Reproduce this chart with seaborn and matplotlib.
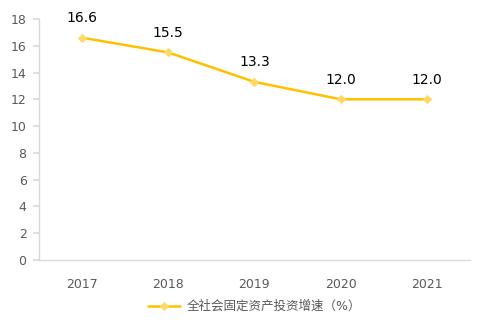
import matplotlib
matplotlib.use("Agg")
import matplotlib.pyplot as plt
import seaborn as sns
import pandas as pd

years = ["2017", "2018", "2019", "2020", "2021"]
growth = [16.6, 15.5, 13.3, 12.0, 12.0]
series_name = "全社会固定资产投资增速（%）"
y_ticks = [0, 2, 4, 6, 8, 10, 12, 14, 16, 18]

sns.set_theme(style="white")
plt.rcParams['font.family'] = ['DejaVu Sans', 'Noto Sans CJK SC']

df = pd.DataFrame({"year": years, "value": growth, "series": series_name})

fig = plt.figure(figsize=(4.89, 3.27), dpi=100)
ax = fig.add_axes([0.0798, 0.205, 0.881, 0.737])

sns.lineplot(data=df, x="year", y="value", hue="series", palette=["#FFC000"],
             marker="D", markersize=4, markerfacecolor="#FFD966",
             markeredgecolor="#FFD966", linewidth=1.8, ax=ax, sort=False)

for i, v in enumerate(growth):
    ax.annotate(f"{v:.1f}", (i, v), xytext=(0, 9), textcoords="offset points",
                ha="center", va="bottom", fontsize=10, color="#000000")

ax.set_xlim(-0.5, len(years) - 0.5)
ax.set_ylim(0, 18)
ax.set_yticks(y_ticks)
ax.set_xlabel("")
ax.set_ylabel("")
for s in ["top", "right"]:
    ax.spines[s].set_visible(False)
for s in ["left", "bottom"]:
    ax.spines[s].set_color("#D9D9D9")
    ax.spines[s].set_linewidth(1)
ax.tick_params(axis="y", left=True, length=4, color="#D9D9D9", labelsize=9,
               labelcolor="#595959", pad=5)
ax.tick_params(axis="x", bottom=False, labelsize=9, labelcolor="#595959", pad=7)

leg = ax.legend(loc="upper center", bbox_to_anchor=(0.5, -0.12), frameon=False,
                fontsize=9, handlelength=2.6, handletextpad=0.5)
for t in leg.get_texts():
    t.set_color("#595959")

fig.savefig("out.png", dpi=100)
